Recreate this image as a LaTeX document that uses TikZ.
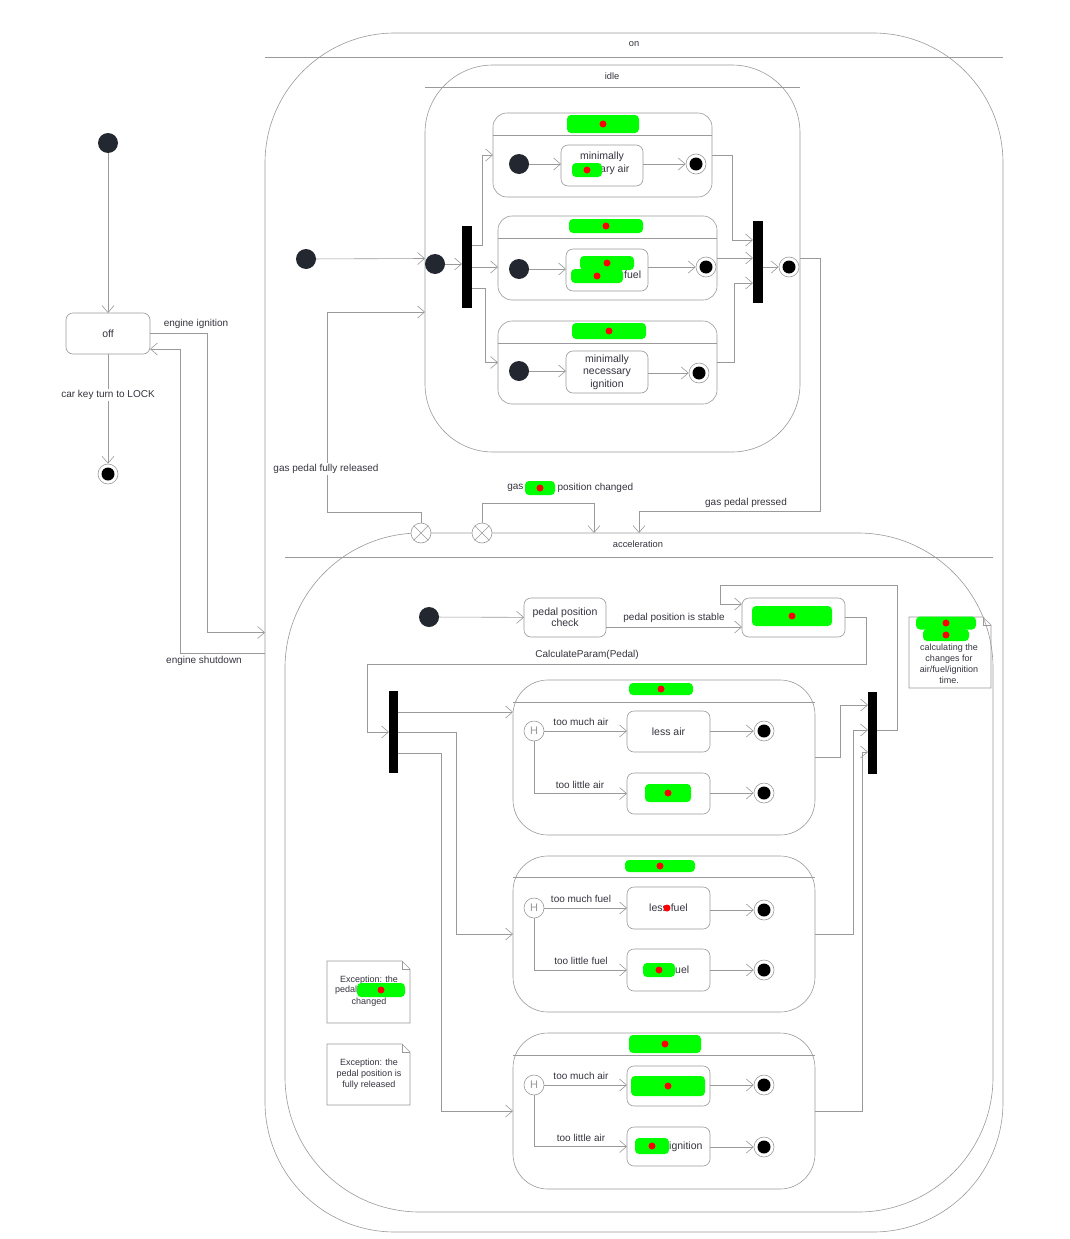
\documentclass[tikz,border=0pt]{standalone}
\usepackage{fontspec}
\setmainfont{Liberation Sans}
\usetikzlibrary{arrows.meta,calc}
\definecolor{lc}{HTML}{9A9A9A}
\definecolor{tc}{HTML}{34343F}
\definecolor{dotc}{HTML}{23272F}
\definecolor{hl}{HTML}{00FF00}
\definecolor{markred}{HTML}{FF0000}

\newcommand\stfont{\fontsize{10.5}{12.5}\selectfont}

\begin{document}
\begin{tikzpicture}[x=1pt,y=-1pt,
  every node/.style={text=tc, font=\fontsize{10}{11}\selectfont},
  ln/.style={draw=lc, line width=0.6pt},
  arr/.style={ln, -{Straight Barb[length=7pt,width=12pt,line width=0.6pt]}},
  bigstate/.style={draw=lc, line width=0.6pt, inner sep=0pt, outer sep=0pt},
  regionbox/.style={draw=lc, line width=0.6pt, inner sep=0pt, outer sep=0pt, rounded corners=14pt, minimum width=219pt, minimum height=84pt},
  subregion/.style={draw=lc, line width=0.6pt, inner sep=0pt, outer sep=0pt, rounded corners=35pt, minimum width=302pt, minimum height=156pt},
  statebox/.style={draw=lc, line width=0.6pt, rounded corners=7pt, inner sep=0pt, outer sep=0pt,
    minimum width=83pt, minimum height=41pt, align=center, font=\stfont},
  bar/.style={fill=black, inner sep=0pt, outer sep=0pt, minimum width=10pt, minimum height=82pt},
  initst/.style={circle, fill=dotc, inner sep=0pt, minimum size=20pt},
  finalst/.style={circle, draw=lc, fill=white, line width=0.6pt, inner sep=0pt, minimum size=20pt,
    path picture={\fill[black] (path picture bounding box.center) circle (6.5pt);}},
  histst/.style={circle, draw=lc, fill=white, line width=0.6pt, inner sep=0pt, minimum size=20pt,
    text=lc, font=\fontsize{11}{11}\selectfont},
  exitpt/.style={circle, draw=lc, fill=white, line width=0.6pt, inner sep=0pt, minimum size=20pt},
  hide/.style={fill=hl, rounded corners=4pt, inner sep=0pt,
    path picture={\fill[markred] (path picture bounding box.center) circle (3.5pt);}},
  reddot/.style={circle, fill=markred, inner sep=0pt, minimum size=7pt},
  lbl/.style={font=\fontsize{10}{11}\selectfont},
  notetext/.style={font=\fontsize{9}{11}\selectfont, align=center},
  title/.style={font=\fontsize{9.3}{11}\selectfont}
]
% canvas
\fill[white] (0,0) rectangle (1070,1239);
\useasboundingbox (0,0) rectangle (1070,1239);

% ---------------- top-level: off ----------------
\node[initst] (offinit) at (108,143) {};
\node[statebox, minimum width=84pt] (off) at (108,333.5) {off};
\node[finalst] (offfin) at (108,474) {};
\draw[arr] (offinit) -- (off);
\draw[arr] (off) -- (offfin);
\node[lbl, fill=white, inner sep=1pt] (lkey) at (108,395) {car key turn to LOCK};

% ---------------- composite state: on ----------------
\node[bigstate, rounded corners=130pt, minimum width=738pt, minimum height=1199pt] (on) at (634,632.5) {};
\draw[ln] (265,57) -- (1003,57);
\node[title] (ontitle) at (634,44) {on};

\coordinate (onsd) at (265,653);
\coordinate (offin) at (150,349);
\draw[arr] (off.east) -| (207,632.5) -- (on.west);
\node[lbl] (lign) at (196,324) {engine ignition};
\draw[arr] (onsd) -| (180,349) -- (offin);
\node[lbl] (lshut) at (204,661) {engine shutdown};

% ---------------- idle ----------------
\node[bigstate, rounded corners=68pt, minimum width=375pt, minimum height=387pt] (idle) at (612.5,258.5) {};
\draw[ln] (425,87) -- (800,87);
\node[title] (idletitle) at (612,76) {idle};

\node[initst] (oninit) at (306,259) {};
\draw[arr] (oninit) -- (idle.west);

\node[initst] (idleinit) at (435,264) {};
\node[bar] (fork1) at (467,267) {};
\draw[arr] (idleinit) -- (fork1.west |- idleinit);

% orthogonal region 1
\node[regionbox] (r1) at (602.5,155) {};
\draw[ln] (493,135) -- (712,135);
\node[hide, minimum width=72pt, minimum height=18pt] (h1) at (603,124) {};
\node[initst] (i1) at (519,164) {};
\node[statebox, minimum width=82pt] (s1) at (602,165.5) {};
\node (s1a) at (602,157) {\stfont minimally};
\node[anchor=west, inner sep=0pt] (s1b) at (600,170) {\stfont ary air};
\node[hide, minimum width=30pt, minimum height=14pt] (h2) at (587,170) {};
\node[finalst] (f1) at (696,164) {};
\draw[arr] (i1) -- (i1 -| s1.west);
\draw[arr] (s1.east |- f1) -- (f1);

% orthogonal region 2
\node[regionbox] (r2) at (607.5,258) {};
\draw[ln] (498,238) -- (717,238);
\node[hide, minimum width=74pt, minimum height=14pt] (h3) at (606,226) {};
\node[initst] (i2) at (519,269) {};
\node[statebox, minimum width=82pt, minimum height=42pt] (s2) at (607,270) {};
\node[hide, minimum width=54pt, minimum height=14pt] (h4) at (607,263) {};
\node[hide, minimum width=52pt, minimum height=14pt] (h5) at (597,276) {};
\node[anchor=west, inner sep=0pt] (s2b) at (624,275) {\stfont fuel};
\node[finalst] (f2) at (706,267) {};
\draw[arr] (i2) -- (i2 -| s2.west);
\draw[arr] (s2.east |- f2) -- (f2);

% orthogonal region 3
\node[regionbox, minimum width=219pt, minimum height=83pt] (r3) at (607.5,362.5) {};
\draw[ln] (498,343) -- (717,343);
\node[hide, minimum width=74pt, minimum height=16pt] (h6) at (609,331) {};
\node[initst] (i3) at (519,371) {};
\node[statebox, minimum width=82pt, minimum height=42pt] (s3) at (607,372) {minimally\\necessary\\ignition};
\node[finalst] (f3) at (699,373) {};
\draw[arr] (i3) -- (i3 -| s3.west);
\draw[arr] (s3.east |- f3) -- (f3);

% fork / join of idle
\draw[arr] (fork1.east |- 0,245) -| (482,155) -- (r1.west);
\draw[arr] (fork1.east |- 0,267) -- (r2.west |- 0,267);
\draw[arr] (fork1.east |- 0,288) -| (485,362.5) -- (r3.west);

\node[bar] (join1) at (758,261.5) {};
\node[finalst] (idlefin) at (789,267) {};
\draw[arr] (r1.east) -| (732,240) -- (join1.west |- 0,240);
\draw[arr] (r2.east) -- (join1.west |- r2.east);
\draw[arr] (r3.east) -| (734,283) -- (join1.west |- 0,283);
\draw[arr] (join1.east |- idlefin) -- (idlefin);

% ---------------- acceleration ----------------
\node[bigstate, rounded corners=135pt, minimum width=708pt, minimum height=679pt] (acc) at (639,872.5) {};
\draw[ln] (285,557) -- (993,557);
\node[title] (acctitle) at (638,544) {acceleration};

\node[exitpt] (x1) at (421,533) {};
\node[exitpt] (x2) at (482,533) {};
\draw[ln] (x1.north east) -- (x1.south west) (x1.north west) -- (x1.south east);
\draw[ln] (x2.north east) -- (x2.south west) (x2.north west) -- (x2.south east);

\coordinate (accin1) at (594,533);
\draw[arr] (idle.east) -| (820,511) -| (acc.north);
\node[lbl] (lpress) at (746,503) {gas pedal pressed};
\draw[arr] (x1.north) |- (327,512) |- (idle.west |- 0,312);
\node[lbl, fill=white, inner sep=1pt] (lrel) at (326,469) {gas pedal fully released};
\draw[arr] (x2.north) |- (594,503) -- (accin1);
\node[lbl, anchor=east] (lchg1) at (527,488) {gas};
\node[lbl, anchor=west] (lchg2) at (554,488) {position changed};
\node[hide, minimum width=30pt, minimum height=14pt] (h7) at (540,488) {};

% pedal check and computation
\node[initst] (accinit) at (429,617) {};
\node[statebox, minimum width=82pt, minimum height=39pt] (pc) at (565,617.5) {pedal position\\[-1.5pt]check};
\node[statebox, minimum width=103pt, minimum height=39pt] (comp) at (793.5,617.5) {};
\node[hide, minimum width=80pt, minimum height=20pt] (h8) at (792,616) {};
\draw[arr] (accinit) -- (pc);
\draw[arr] (pc.east |- 0,627) -- (comp.west |- 0,627);
\node[lbl] (lstable) at (674,618) {pedal position is stable};

\node[bar, minimum width=9pt] (fork2) at (393.5,732) {};
\node[bar, minimum width=9pt] (join2) at (872.5,732.5) {};
\draw[arr] (comp.east) -| (866,664) -| (367,732) -- (fork2.west |- 0,732);
\node[lbl] (lcalc) at (587,655) {CalculateParam(Pedal)};
\draw[arr] (join2.east |- 0,730) -| (897,585) -| (720,604) -- (comp.west |- 0,604);

% region A
\node[subregion, minimum height=155pt] (rA) at (664,757.5) {};
\draw[ln] (513,702) -- (815,702);
\node[hide, minimum width=64pt, minimum height=12pt] (h11) at (661,689) {};
\node[histst] (hA) at (534,731) {H};
\node[statebox] (A1) at (668.5,731.5) {less air};
\node[statebox] (A2) at (668.5,793.5) {};
\node[hide, minimum width=46pt, minimum height=18pt] (h12) at (668,793) {};
\node[finalst] (fA1) at (764,731) {};
\node[finalst] (fA2) at (764,793) {};
\draw[arr] (hA) -- (A1.west |- hA);
\node[lbl] (lA1) at (581,722) {too much air};
\draw[arr] (hA.south) |- (A2.west);
\node[lbl] (lA2) at (580,785) {too little air};
\draw[arr] (A1.east |- fA1) -- (fA1);
\draw[arr] (A2.east |- fA2) -- (fA2);

% region B
\node[subregion] (rB) at (664,934) {};
\draw[ln] (513,877) -- (815,877);
\node[hide, minimum width=70pt, minimum height=12pt] (h13) at (660,866) {};
\node[histst] (hB) at (534,908) {H};
\node[statebox, minimum height=42pt] (B1) at (668.5,908) {less fuel};
\node[reddot] (d14) at (667,908) {};
\node[statebox, minimum height=42pt] (B2) at (668.5,970) {};
\node[hide, minimum width=32pt, minimum height=14pt] (h15) at (659,970) {};
\node[anchor=west, inner sep=0pt] (B2t) at (675,970) {\stfont uel};
\node[finalst] (fB1) at (764,910) {};
\node[finalst] (fB2) at (764,970) {};
\draw[arr] (hB) -- (B1.west |- hB);
\node[lbl] (lB1) at (581,899) {too much fuel};
\draw[arr] (hB.south) |- (B2.west);
\node[lbl] (lB2) at (581,961) {too little fuel};
\draw[arr] (B1.east |- fB1) -- (fB1);
\draw[arr] (B2.east |- fB2) -- (fB2);

% region C
\node[subregion] (rC) at (664,1111) {};
\draw[ln] (513,1055) -- (815,1055);
\node[hide, minimum width=72pt, minimum height=18pt] (h16) at (665,1044) {};
\node[histst] (hC) at (534,1085) {H};
\node[statebox, minimum height=40pt] (C1) at (668.5,1086) {};
\node[hide, minimum width=74pt, minimum height=20pt] (h17) at (668,1086) {};
\node[statebox, minimum height=39pt] (C2) at (668.5,1146.5) {};
\node[hide, minimum width=34pt, minimum height=16pt] (h18) at (652,1146) {};
\node[anchor=west, inner sep=0pt] (C2t) at (669,1147) {\stfont ignition};
\node[finalst] (fC1) at (764,1085) {};
\node[finalst] (fC2) at (764,1147) {};
\draw[arr] (hC) -- (C1.west |- hC);
\node[lbl] (lC1) at (581,1076) {too much air};
\draw[arr] (hC.south) |- (C2.west);
\node[lbl] (lC2) at (581,1138) {too little air};
\draw[arr] (C1.east |- fC1) -- (fC1);
\draw[arr] (C2.east |- fC2) -- (fC2);

% fork / join of acceleration
\draw[arr] (fork2.east |- 0,712) -- (rA.west |- 0,712);
\draw[arr] (fork2.east |- 0,732) -| (456,934) -- (rB.west);
\draw[arr] (fork2.east |- 0,753) -| (441,1111) -- (rC.west);
\draw[arr] (rA.east) -| (840,705) -- (join2.west |- 0,705);
\draw[arr] (rB.east) -| (853,730) -- (join2.west |- 0,730);
\draw[arr] (rC.east) -| (862,752) -- (join2.west |- 0,752);

% ---------------- notes ----------------
\draw[ln] (909,617) -- (983,617) -- (991,625) -- (991,688) -- (909,688) -- cycle;
\draw[ln] (983,617) -- (983,625) -- (991,625);
\node[hide, minimum width=60pt, minimum height=13pt] (h9) at (946,623) {};
\node[hide, minimum width=46pt, minimum height=12pt] (h10) at (946,635) {};
\node[notetext] (n1) at (949,663.5) {calculating the\\changes for\\air/fuel/ignition\\time.};

\draw[ln] (327,961) -- (402,961) -- (410,969) -- (410,1023) -- (327,1023) -- cycle;
\draw[ln] (402,961) -- (402,969) -- (410,969);
\node[notetext] (n2a) at (369,980) {Exception: the};
\node[notetext, anchor=west, inner sep=0pt] (n2b) at (335,990.5) {pedal};
\node[hide, minimum width=48pt, minimum height=14pt] (h19) at (381,990) {};
\node[notetext] (n2c) at (369,1002) {changed};

\draw[ln] (327,1044) -- (402,1044) -- (410,1052) -- (410,1105) -- (327,1105) -- cycle;
\draw[ln] (402,1044) -- (402,1052) -- (410,1052);
\node[notetext] (n3) at (369,1074) {Exception: the\\pedal position is\\fully released};
\end{tikzpicture}
\end{document}
